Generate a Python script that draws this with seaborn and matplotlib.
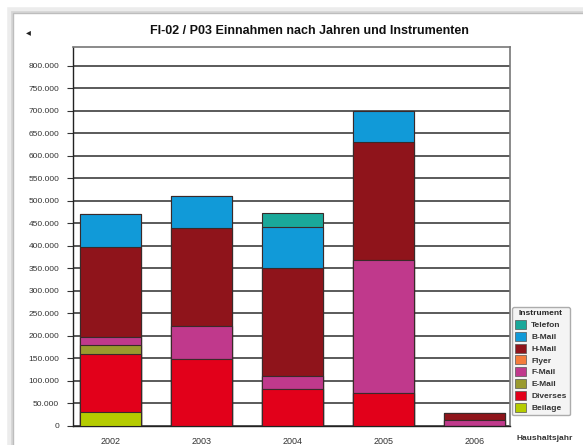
"""
Stacked bar chart: Einnahmen nach Jahren und Instrumenten
"""

import matplotlib
matplotlib.use("Agg")
import matplotlib.pyplot as plt
from matplotlib.patches import Patch, Rectangle
from matplotlib.ticker import FuncFormatter
import numpy as np
import pandas as pd
import seaborn as sns

years = ["2002", "2003", "2004", "2005", "2006"]

# stack order from bottom to top (values in EUR)
beilage = [31000, 0, 0, 0, 0]
diverses = [130000, 148000, 82000, 73000, 0]
e_mail = [19000, 0, 0, 0, 0]
f_mail = [17000, 75000, 28000, 296000, 13000]
flyer = [0, 0, 0, 0, 0]
h_mail = [200000, 216000, 240000, 263000, 15000]
b_mail = [74000, 73000, 91000, 68000, 0]
telefon = [0, 0, 33000, 0, 0]

instruments = ["Beilage", "Diverses", "E-Mail", "F-Mail", "Flyer",
               "H-Mail", "B-Mail", "Telefon"]
colors = ["#b5cc00", "#e2001a", "#9a9a2e", "#c0398c", "#f47c3c",
          "#8f141b", "#119ad8", "#1aa89a"]


def main():
    df = pd.DataFrame(
        {"Beilage": beilage, "Diverses": diverses, "E-Mail": e_mail,
         "F-Mail": f_mail, "Flyer": flyer, "H-Mail": h_mail,
         "B-Mail": b_mail, "Telefon": telefon},
        index=years,
    )
    cum = df[instruments].cumsum(axis=1)

    sns.set_theme(style="white")
    plt.rcParams["font.family"] = ["Liberation Sans", "DejaVu Sans"]

    fig = plt.figure(figsize=(5.83, 4.45), dpi=100)
    fig.patch.set_facecolor("white")
    ax = fig.add_axes([73 / 583, 19 / 445, 437 / 583, 379 / 445])

    # panel frame with a soft shadow
    for off, col, lw in [(3, "#ececec", 4), (1, "#d6d6d6", 2), (0, "#bdbdbd", 1)]:
        fig.add_artist(Rectangle(((13 - off) / 583, -0.1), 1.2, (445 - 13 + off) / 445 + 0.1,
                                 transform=fig.transFigure, fill=False,
                                 edgecolor=col, lw=lw, zorder=0))

    # draw cumulative bars from top layer down so lower layers overlap
    for name, color in reversed(list(zip(instruments, colors))):
        d = pd.DataFrame({"year": years, "value": cum[name].values})
        sns.barplot(data=d, x="year", y="value", color=color, saturation=1,
                    width=0.67, edgecolor="#3a2a2a", linewidth=0.8,
                    ax=ax, zorder=3)

    ax.set_xlim(-0.41, 4.39)
    ax.set_ylim(0, 842000)
    ax.set_yticks(np.arange(0, 800001, 50000))
    ax.yaxis.set_major_formatter(
        FuncFormatter(lambda v, p: f"{int(v):,}".replace(",", ".")))
    ax.yaxis.grid(True, color="#5a5a5a", lw=1.4)
    ax.set_axisbelow(True)
    ax.tick_params(axis="y", which="both", left=True, length=4, width=0.8,
                   color="#333", labelsize=6, labelcolor="#333", pad=6)
    ax.tick_params(axis="x", bottom=False, labelsize=6.5, labelcolor="#333", pad=2)
    ax.set_xlabel("")
    ax.set_ylabel("")
    for side in ["left", "bottom"]:
        ax.spines[side].set_color("#222")
        ax.spines[side].set_linewidth(1.0)
    for side in ["top", "right"]:
        ax.spines[side].set_color("#777")
        ax.spines[side].set_linewidth(1.2)

    fig.text(309 / 583, 1 - 31 / 445, "FI-02 / P03 Einnahmen nach Jahren und Instrumenten",
             ha="center", va="center", fontsize=9, fontweight="bold", color="#111")
    fig.text(28 / 583, 1 - 32 / 445, "\u25c2", ha="center", va="center",
             fontsize=7, color="#222", family=["DejaVu Sans"])
    fig.text(545 / 583, 1 - 438 / 445, "Haushaltsjahr", ha="center",
             va="center", fontsize=6, fontweight="bold", color="#333")

    handles = [Patch(facecolor=c, edgecolor="#555", lw=0.5, label=n)
               for n, c in reversed(list(zip(instruments, colors)))]
    leg = fig.legend(handles=handles, title="Instrument",
                     loc="upper left", bbox_to_anchor=(512 / 583, 1 - 307 / 445),
                     fontsize=6, title_fontsize=6, frameon=True,
                     fancybox=True, facecolor="#f2f2f2", edgecolor="#999",
                     handlelength=1.3, handleheight=1.3, handletextpad=0.6,
                     labelspacing=0.3, borderpad=0.4, borderaxespad=0)
    leg.get_title().set_fontweight("bold")
    for t in leg.get_texts():
        t.set_fontweight("bold")
        t.set_color("#333")

    fig.savefig("out.png", dpi=100)


if __name__ == "__main__":
    main()
